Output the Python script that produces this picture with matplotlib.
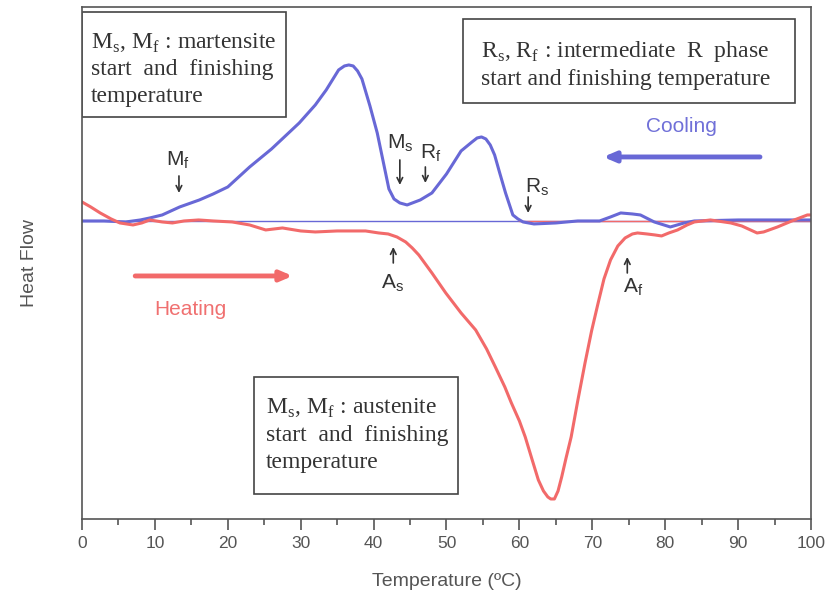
import matplotlib
matplotlib.use("Agg")
import matplotlib.pyplot as plt
from matplotlib.patches import Rectangle

# cooling curve (blue), temperature in C, heat flow in arbitrary units
cool_temp = [0, 3, 6, 8, 9.3, 11, 13.4, 16.1, 18, 20, 23, 26, 29.8, 32, 33.5, 35.2,
             36, 36.6, 37.2, 37.8, 38.4, 39.5, 40.5, 41.3, 42.1, 42.8, 43.6, 44.6, 46.4, 48,
             50, 52, 53.5, 54.2, 54.8, 55.4, 56, 56.6, 57.3, 58.1, 59.1, 59.8, 60.5, 62, 65,
             68, 71, 72.5, 73.9, 75.5, 76.6, 78.5, 80.7, 82.6, 84, 90, 95, 100]
cool_flow = [0, 0, -1, 1, 3, 6, 14, 21, 27, 34, 54, 72, 98, 116, 131, 151,
             155, 156, 155, 150, 142, 115, 88, 60, 32, 22, 18, 16, 21, 28,
             47, 70, 79, 83, 84, 82, 76, 66, 48, 28, 6, 2, -1, -3, -2,
             0, 0, 4, 8, 7, 6, -1, -6, -2, 0, 1, 1, 1]

# heating curve (red)
heat_temp = [0, 1.2, 2.5, 4, 5.2, 7, 8.2, 9.3, 11, 12.4, 14, 16, 18, 20.6, 23, 25.2,
             27.5, 30, 32, 35, 38.9, 40.7, 42, 43.2, 44.4, 45.3, 46.2, 48, 49.9, 52,
             54, 55.5, 56.7, 58, 58.9, 60, 60.8, 61.8, 62.6, 63.3, 63.9, 64.3, 64.8,
             65.3, 65.8, 66.4, 67.1, 68, 69, 69.9, 70.8, 71.6, 72.5, 73.5, 74.5, 75.5, 76.2,
             77.5, 78.6, 79.5, 80.5, 81.7, 83, 84, 86.2, 89, 90.5, 92, 92.6, 93.5,
             95.4, 97.7, 99.5, 100]
heat_flow = [19, 14, 8, 2, -2, -4, -2, 1, -1, -2, 0, 1, 0, -1, -4, -9,
             -7, -10, -11, -10, -10, -12, -13, -16, -21, -27, -34, -52, -72, -92,
             -109, -128, -146, -166, -182, -200, -216, -240, -259, -270, -276, -278, -278,
             -270, -256, -237, -216, -180, -142, -110, -82, -58, -39, -25, -17, -13, -12,
             -13, -14, -15, -12, -9, -4, -1, 1, -2, -5, -10, -12, -11,
             -6, 1, 6, 6]

blue = "#6868d6"
red = "#f26a6a"
sans = ["Liberation Sans", "DejaVu Sans"]
serif = ["Liberation Serif", "DejaVu Serif"]
grey = "#555555"

fig = plt.figure(figsize=(8.29, 5.94), dpi=100)
ax = fig.add_axes([0.0989, 0.1263, 0.8794, 0.862])

# baselines
ax.plot([0, 100], [0, 0], color=blue, lw=1)
ax.plot([60, 100], [0, 0], color=red, lw=1)
ax.plot(cool_temp, cool_flow, color=blue, lw=2.2)
ax.plot(heat_temp, heat_flow, color=red, lw=2.2)

ax.set_xlim(0, 100)
ax.set_ylim(-298, 214)
ax.set_xticks(range(0, 101, 10))
ax.set_xticks(range(5, 100, 10), minor=True)
ax.set_yticks([])
ax.tick_params(axis="x", which="major", length=8, width=1.2, color=grey,
               labelsize=12.5, labelcolor="#555555", pad=4)
ax.tick_params(axis="x", which="minor", length=4, width=1.2, color=grey)
for lab in ax.get_xticklabels():
    lab.set_fontfamily(sans)
for sp in ax.spines.values():
    sp.set_color(grey)
    sp.set_linewidth(1.2)

ax.set_xlabel("Temperature (ºC)", fontsize=14, family=sans, color="#555555", labelpad=16)
ax.set_ylabel("Heat Flow", fontsize=14, family=sans, color="#555555", labelpad=32)

# explanation boxes
boxes = [(0, 104, 28, 105), (52.3, 118, 45.5, 84), (23.6, -273, 28, 117)]
for x0, y0, w, h in boxes:
    ax.add_patch(Rectangle((x0, y0), w, h, fill=False, ec="#444444", lw=1.2))

box_text = dict(family=serif, fontsize=17, color="#333333", va="center", ha="left")
ax.text(1.2, 178, r"M$_\mathregular{s}$, M$_\mathregular{f}$ : martensite", **box_text)
ax.text(1.2, 151, "start  and  finishing", **box_text)
ax.text(1.2, 124, "temperature", **box_text)
ax.text(54.7, 169, r"R$_\mathregular{s}$, R$_\mathregular{f}$ : intermediate  R  phase", **box_text)
ax.text(54.7, 141, "start and finishing temperature", **box_text)
ax.text(25.2, -187, r"M$_\mathregular{s}$, M$_\mathregular{f}$ : austenite", **box_text)
ax.text(25.2, -215, "start  and  finishing", **box_text)
ax.text(25.2, -242, "temperature", **box_text)

# cooling / heating direction
ax.text(82.2, 94, "Cooling", color="#7070d8", fontsize=15, family=sans, ha="center", va="center")
ax.annotate("", xy=(71.5, 64), xytext=(93, 64),
            arrowprops=dict(arrowstyle="-|>,head_length=0.7,head_width=0.3", color=blue, lw=3.5,
                            shrinkA=0, shrinkB=0))
ax.text(14.8, -89, "Heating", color="#f07070", fontsize=15, family=sans, ha="center", va="center")
ax.annotate("", xy=(28.9, -55), xytext=(7.3, -55),
            arrowprops=dict(arrowstyle="-|>,head_length=0.7,head_width=0.3", color=red, lw=3.5,
                            shrinkA=0, shrinkB=0))

# transition markers
lab = dict(fontsize=15, family=sans, color="#333333", ha="center", va="center")
arr = dict(arrowstyle="->,head_length=0.4,head_width=0.2", color="#333333", lw=1.2,
           shrinkA=0, shrinkB=0)
markers = [
    (r"M$_\mathregular{f}$", 13.2, 61, 13.3, 45, 28),
    (r"M$_\mathregular{s}$", 43.6, 78, 43.6, 61, 36),
    (r"R$_\mathregular{f}$", 47.9, 68, 47.1, 54, 38),
    (r"R$_\mathregular{s}$", 62.4, 34, 61.2, 24, 8),
    (r"A$_\mathregular{s}$", 42.6, -62, 42.7, -42, -26),
    (r"A$_\mathregular{f}$", 75.6, -66, 74.8, -52, -36),
]
for text, tx, ty, ax_x, y_from, y_to in markers:
    ax.text(tx, ty, text, **lab)
    ax.annotate("", xy=(ax_x, y_to), xytext=(ax_x, y_from), arrowprops=arr)

fig.savefig("out.png", dpi=100)
